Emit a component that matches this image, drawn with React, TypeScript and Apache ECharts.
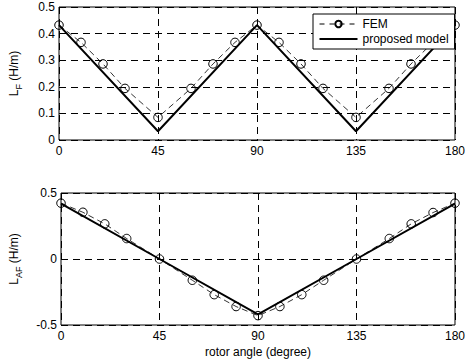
import React, { useEffect, useRef } from "react";
import * as echarts from "echarts";

const angleTicks = [0, 45, 90, 135, 180];
const femAngles = [0, 10, 20, 30, 45, 60, 70, 80, 90, 100, 110, 120, 135, 150, 160, 170, 180];
const femLF = [0.432, 0.367, 0.286, 0.194, 0.085, 0.194, 0.286, 0.367, 0.432, 0.367, 0.286, 0.194, 0.085, 0.194, 0.286, 0.367, 0.432];
const femLAF = [0.423, 0.354, 0.266, 0.155, 0, -0.161, -0.27, -0.36, -0.429, -0.36, -0.27, -0.161, 0, 0.155, 0.266, 0.352, 0.423];
const modelAngles = [0, 45, 90, 135, 180];
const modelLF = [0.432, 0.033, 0.432, 0.033, 0.432];
const modelLAF = [0.42, 0, -0.42, 0, 0.42];

const FONT = "Liberation Sans, Arial, sans-serif";

export default function App() {
  const ref = useRef<HTMLDivElement>(null);
  useEffect(() => {
    const chart = echarts.init(ref.current!, null, { renderer: "svg" });
    const pair = (xs: number[], ys: number[]) => xs.map((x, i) => [x, ys[i]]);
    const split = { show: true, lineStyle: { color: "#000", type: [7, 5], width: 1 } };
    const xBase = (gi: number, name: string) => ({
      type: "value",
      gridIndex: gi,
      min: angleTicks[0],
      max: angleTicks[angleTicks.length - 1],
      interval: angleTicks[1] - angleTicks[0],
      axisLine: { show: false },
      axisTick: { show: false },
      splitLine: split,
      axisLabel: { color: "#000", fontSize: 12, fontFamily: FONT, margin: 5 },
      name,
      nameLocation: "middle",
      nameGap: 21,
      nameTextStyle: { color: "#000", fontSize: 12, fontFamily: FONT, verticalAlign: "top" },
    });
    const rich = {
      a: { fontSize: 12, fontFamily: FONT, color: "#000", lineHeight: 12 },
      b: { fontSize: 9, fontFamily: FONT, color: "#000", lineHeight: 18, verticalAlign: "bottom" },
    };
    const femStyle = (gi: number, ys: number[]) => ({
      name: "FEM",
      type: "line",
      xAxisIndex: gi,
      yAxisIndex: gi,
      data: pair(femAngles, ys),
      symbol: "circle",
      symbolSize: 8.5,
      itemStyle: { color: "rgba(255,255,255,0)", borderColor: "#000", borderWidth: 1 },
      lineStyle: { color: "#000", width: 0.8, type: [6, 4] },
      z: 3,
    });
    const modelStyle = (gi: number, ys: number[]) => ({
      name: "proposed model",
      type: "line",
      xAxisIndex: gi,
      yAxisIndex: gi,
      data: pair(modelAngles, ys),
      symbol: "none",
      itemStyle: { color: "#000" },
      lineStyle: { color: "#000", width: 2 },
      z: 4,
    });
    chart.setOption({
      animation: false,
      textStyle: { fontFamily: FONT },
      grid: [
        { left: 56, right: 9, top: 7, height: 133, show: true, borderColor: "#000", borderWidth: 1, backgroundColor: "#fff" },
        { left: 56, right: 9, top: 193, height: 132, show: true, borderColor: "#000", borderWidth: 1, backgroundColor: "#fff" },
      ],
      xAxis: [xBase(0, ""), xBase(1, "rotor angle (degree)")],
      yAxis: [
        {
          type: "value",
          gridIndex: 0,
          min: 0,
          max: 0.5,
          interval: 0.1,
          axisLine: { show: false },
          axisTick: { show: false },
          splitLine: split,
          axisLabel: { color: "#000", fontSize: 12, fontFamily: FONT, margin: 4 },
          name: "{a|L}{b|F}{a| (H/m)}",
          nameLocation: "middle",
          nameRotate: 90,
          nameGap: 36,
          nameTextStyle: { rich },
        },
        {
          type: "value",
          gridIndex: 1,
          min: -0.5,
          max: 0.5,
          interval: 0.5,
          axisLine: { show: false },
          axisTick: { show: false },
          splitLine: split,
          axisLabel: { color: "#000", fontSize: 12, fontFamily: FONT, margin: 4 },
          name: "{a|L}{b|AF}{a| (H/m)}",
          nameLocation: "middle",
          nameRotate: 90,
          nameGap: 38,
          nameTextStyle: { rich },
        },
      ],
      legend: {
        data: [
          { name: "FEM", lineStyle: { width: 1, type: [5, 5] } },
          { name: "proposed model", icon: "path://M0,3H38V5H0Z" },
        ],
        orient: "vertical",
        left: 313,
        top: 14,
        padding: [4, 6, 4, 6],
        itemGap: 3,
        itemWidth: 38,
        itemHeight: 8,
        backgroundColor: "#fff",
        borderColor: "#000",
        borderWidth: 1,
        borderRadius: 0,
        textStyle: { color: "#000", fontSize: 12, fontFamily: FONT },
        z: 10,
      },
      series: [femStyle(0, femLF), modelStyle(0, modelLF), femStyle(1, femLAF), modelStyle(1, modelLAF)],
    });
    return () => chart.dispose();
  }, []);
  return <div ref={ref} style={{ position: "absolute", left: 0, top: 0, width: 468, height: 364, background: "#fff" }} />;
}
